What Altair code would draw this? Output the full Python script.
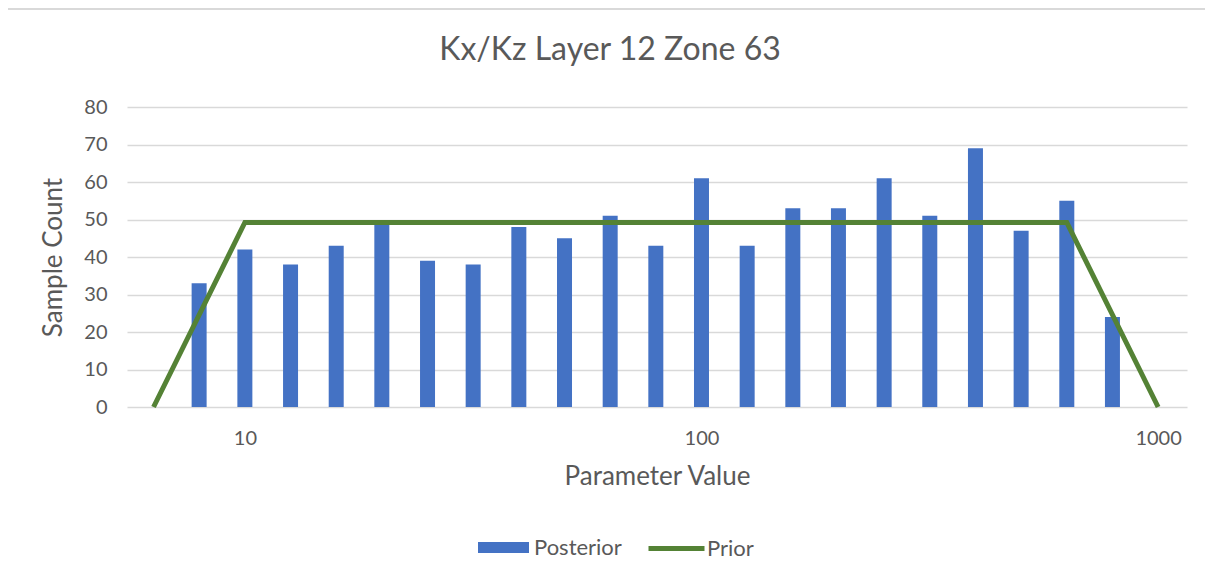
import altair as alt
import pandas as pd

bin_centers = [7.94, 10, 12.59, 15.85, 19.95, 25.12, 31.62, 39.81, 50.12, 63.1,
               79.43, 100, 125.9, 158.5, 199.5, 251.2, 316.2, 398.1, 501.2, 631, 794.3]
posterior = [33, 42, 38, 43, 49, 39, 38, 48, 45, 51, 43, 61, 43, 53, 53, 61, 51, 69, 47, 55, 24]

prior_x = [6.31, 10, 631, 1000]
prior_y = [0, 49.2, 49.2, 0]

x_ticks = [10, 100, 1000]
y_ticks = [0, 10, 20, 30, 40, 50, 60, 70, 80]
chart_title = ["Kx/Kz Layer 12 Zone 63"]

bars_df = pd.DataFrame({"x": bin_centers, "y": posterior, "s": ["Posterior"] * len(posterior)})
prior_df = pd.DataFrame({"x": prior_x, "y": prior_y, "s": ["Prior"] * len(prior_x)})
title_df = pd.DataFrame({"t": chart_title})

FONT = "Lato"
GRAY = "#595959"
xscale = alt.Scale(type="log", domain=[5.66, 1128], nice=False)
yscale = alt.Scale(domain=[0, 80], nice=False)

x_axis = alt.Axis(values=x_ticks, title="Parameter Value", grid=False, ticks=False,
                  domain=False, labelPadding=21, titlePadding=15, format="d",
                  labelOverlap=False)
y_axis = alt.Axis(values=y_ticks, tickCount=9, title="Sample Count", ticks=False,
                  domain=False, labelPadding=20, titlePadding=17, labelOverlap=False)

bars = alt.Chart(bars_df).mark_bar(size=15).encode(
    x=alt.X("x:Q", scale=xscale, axis=x_axis),
    y=alt.Y("y:Q", scale=yscale, axis=y_axis),
    color=alt.Color("s:N", scale=alt.Scale(domain=["Posterior"], range=["#4472C4"]),
                    legend=alt.Legend(title=None, orient="none", legendX=351, legendY=415,
                                      padding=0, symbolType="M-1,-0.22H1V0.22H-1Z", symbolSize=2601,
                                      symbolStrokeWidth=0, labelFontSize=22, labelFont=FONT,
                                      labelColor=GRAY, labelOffset=5)),
)

line = alt.Chart(prior_df).mark_line(strokeWidth=5, strokeCap="butt").encode(
    x=alt.X("x:Q", scale=xscale, axis=x_axis),
    y=alt.Y("y:Q", scale=yscale, axis=y_axis),
    stroke=alt.Stroke("s:N", scale=alt.Scale(domain=["Prior"], range=["#548235"]),
                      legend=alt.Legend(title=None, orient="none", legendX=519, legendY=411,
                                        padding=0, symbolType="stroke", symbolSize=3136,
                                        symbolStrokeWidth=5, labelFontSize=22, labelFont=FONT,
                                        labelColor=GRAY, labelOffset=0)),
)

title = alt.Chart(title_df).mark_text(font=FONT, fontSize=32, color=GRAY, align="center",
                                      baseline="alphabetic").encode(
    text="t:N", x=alt.value(483), y=alt.value(-47))

border_left = alt.Chart(title_df).mark_rule(color="#D9D9D9", strokeWidth=2).encode(
    x=alt.value(-121), y=alt.value(-98), y2=alt.value(470))
border_top = alt.Chart(title_df).mark_rule(color="#D9D9D9", strokeWidth=2).encode(
    x=alt.value(-121), x2=alt.value(1080), y=alt.value(-98))

chart = alt.layer(border_left, border_top, title, bars, line).properties(
    width=1060, height=300,
    padding={"left": 119, "top": 99, "right": 18, "bottom": 164},
    autosize=alt.AutoSizeParams(type="none"),
).configure_axis(
    labelFont=FONT, titleFont=FONT, labelColor=GRAY, titleColor=GRAY,
    labelFontSize=20, titleFontSize=26, titleFontWeight="normal",
    gridColor="#D9D9D9", gridWidth=1.3,
).configure_view(stroke=None)

chart.save("out.html", embed_options={"renderer": "svg", "actions": False})
